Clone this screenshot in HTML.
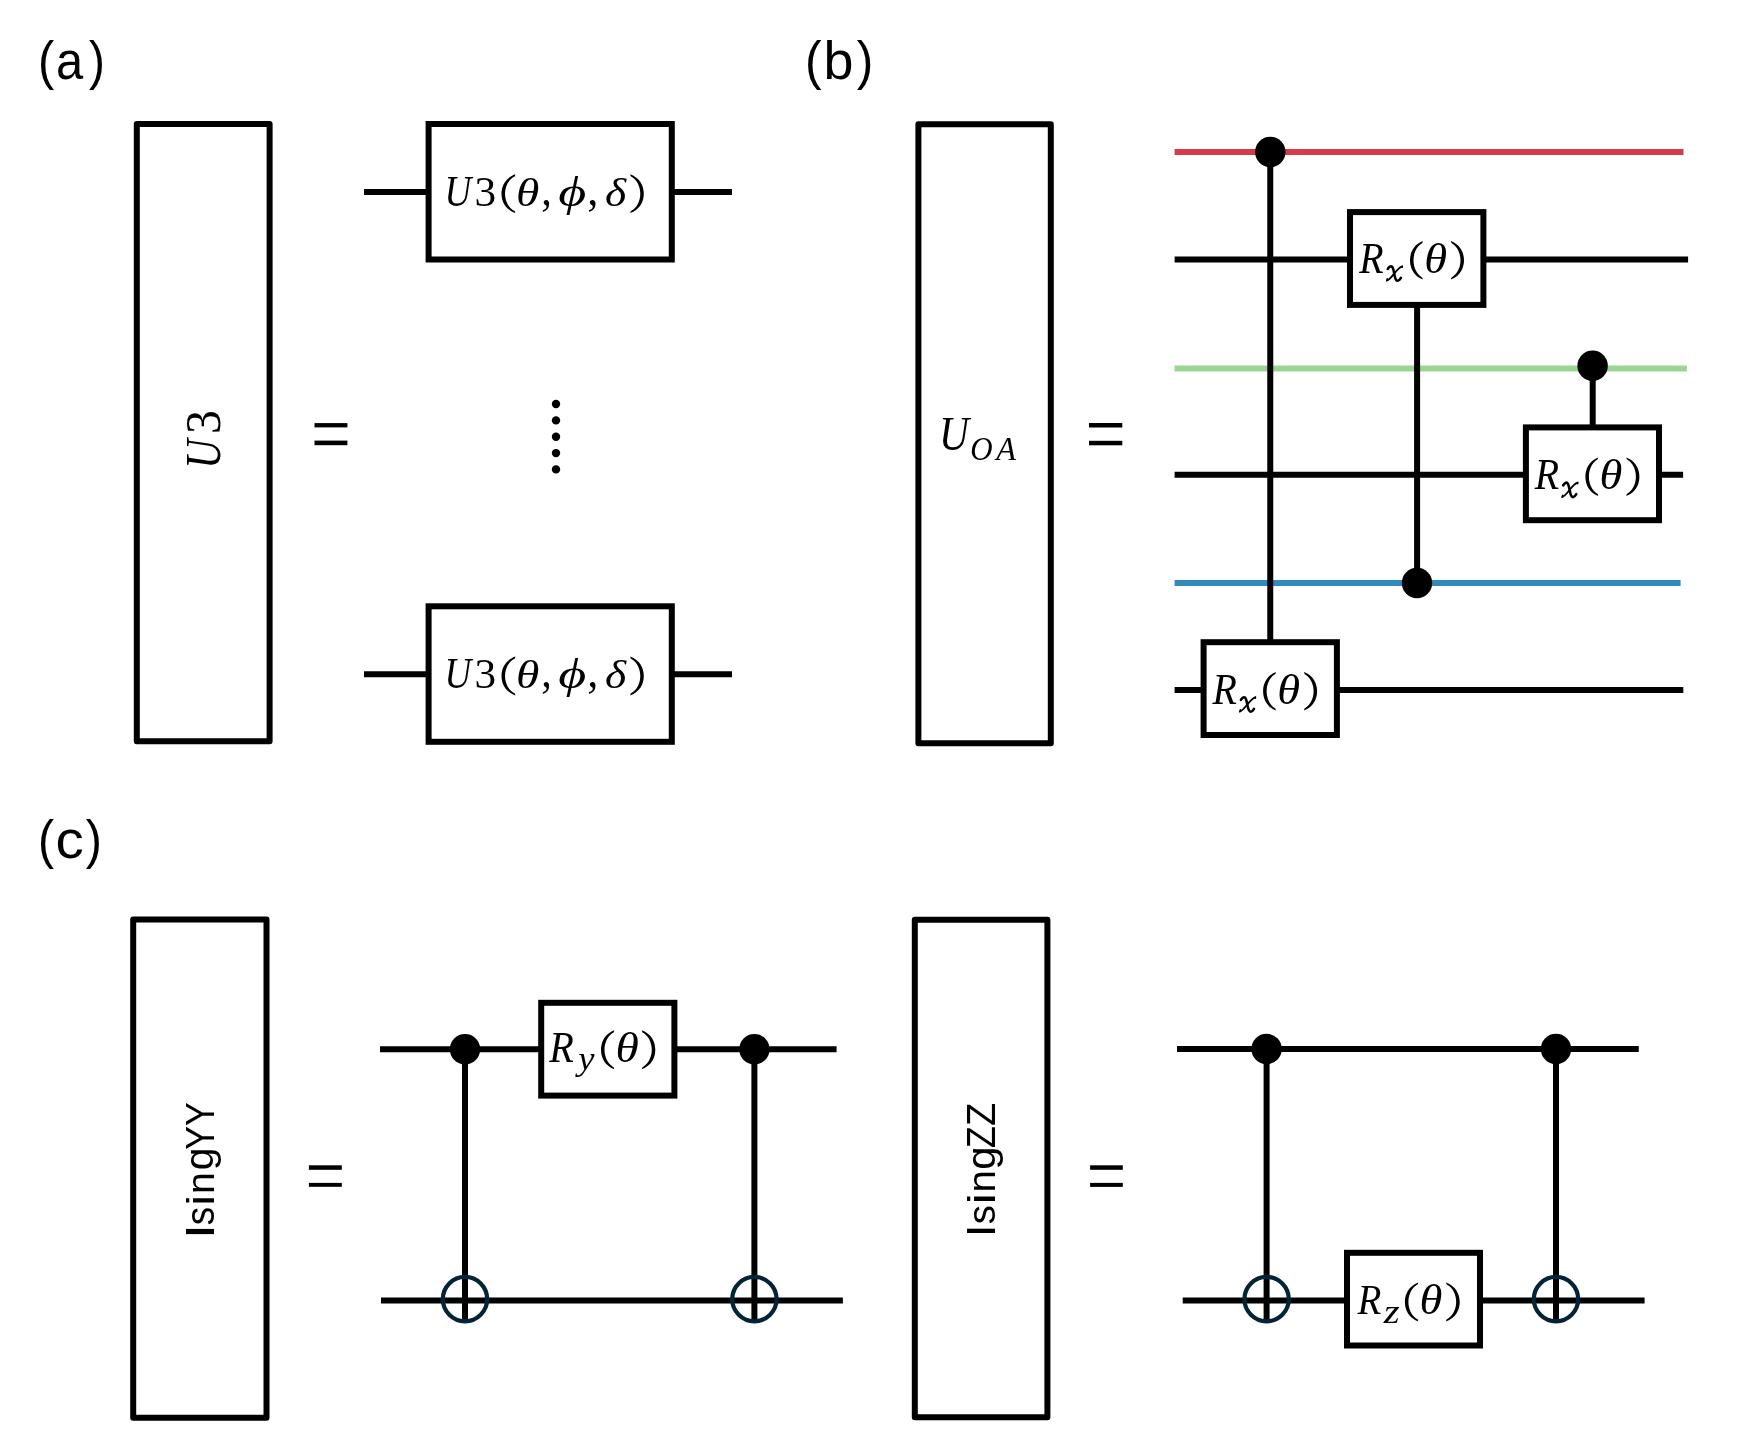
<!DOCTYPE html>
<html><head><meta charset="utf-8"><title>circuits</title>
<style>html,body{margin:0;padding:0;background:#fff;overflow:hidden;width:1743px;height:1436px;} svg{display:block;will-change:transform;} text{-webkit-font-smoothing:antialiased;}</style>
</head><body>
<svg width="1743" height="1436" viewBox="0 0 1743 1436">
<rect x="0" y="0" width="1743" height="1436" fill="#ffffff"/>
<text transform="translate(37.98,78.83) scale(0.9021,1)" font-family='"Liberation Sans", sans-serif' font-style="normal" font-size="53.94">(</text>
<text transform="translate(55.92,79.17) scale(0.9075,1)" font-family='"Liberation Sans", sans-serif' font-style="normal" font-size="53.85">a</text>
<text transform="translate(88.92,78.83) scale(0.8881,1)" font-family='"Liberation Sans", sans-serif' font-style="normal" font-size="53.94">)</text>
<text transform="translate(804.91,78.89) scale(0.9276,1)" font-family='"Liberation Sans", sans-serif' font-style="normal" font-size="53.67">(</text>
<text transform="translate(823.53,79.18) scale(1.0133,1)" font-family='"Liberation Sans", sans-serif' font-style="normal" font-size="53.11">b</text>
<text transform="translate(856.71,78.89) scale(0.9276,1)" font-family='"Liberation Sans", sans-serif' font-style="normal" font-size="53.67">)</text>
<text transform="translate(38.11,858.43) scale(0.8871,1)" font-family='"Liberation Sans", sans-serif' font-style="normal" font-size="54.42">(</text>
<text transform="translate(55.40,858.28) scale(1.0654,1)" font-family='"Liberation Sans", sans-serif' font-style="normal" font-size="53.12">c</text>
<text transform="translate(85.81,858.43) scale(0.8940,1)" font-family='"Liberation Sans", sans-serif' font-style="normal" font-size="54.42">)</text>
<rect x="136.8" y="124" width="132.80" height="617.20" fill="#fff" stroke="#000" stroke-width="6" stroke-linejoin="round"/>
<g transform="translate(219.6,465.1) rotate(-90)"><text transform="translate(-3.75,-0.08) scale(0.8237,1)" font-family='"Liberation Serif", serif' font-style="italic" font-size="49.66">U</text></g>
<g transform="translate(219.6,465.1) rotate(-90)"><text transform="translate(31.01,0.21) scale(0.9613,1)" font-family='"Liberation Serif", serif' font-style="normal" font-size="49.86">3</text></g>
<rect x="314.5" y="423.1" width="32.90" height="4.30" fill="#000"/>
<rect x="314.5" y="440.6" width="32.90" height="4.60" fill="#000"/>
<circle cx="556" cy="404.05" r="4.2" fill="#000"/>
<circle cx="556" cy="420.4" r="4.2" fill="#000"/>
<circle cx="556" cy="436.7" r="4.2" fill="#000"/>
<circle cx="556" cy="453.1" r="4.2" fill="#000"/>
<circle cx="556" cy="469.4" r="4.2" fill="#000"/>
<line x1="364" y1="192" x2="732" y2="192" stroke="#000" stroke-width="6" stroke-linecap="butt"/>
<rect x="428.6" y="124" width="243.20" height="135.50" fill="#fff" stroke="#000" stroke-width="6" stroke-linejoin="miter"/>
<text transform="translate(444.41,205.57) scale(0.8469,1)" font-family='"Liberation Serif", serif' font-style="italic" font-size="43.64">U</text>
<text transform="translate(474.53,205.58) scale(1.0039,1)" font-family='"Liberation Serif", serif' font-style="normal" font-size="43.16">3</text>
<path d="M515.40,174.30 C505.67,177.78 501.50,185.74 501.50,193.70 C501.50,201.66 505.67,209.62 515.40,213.10 L514.90,211.20 C508.12,207.63 505.00,200.47 505.00,193.70 C505.00,186.93 508.12,179.77 514.90,176.20 Z" fill="#000"/>
<text transform="translate(515.98,205.60) scale(1.1613,1)" font-family='"Liberation Serif", serif' font-style="italic" font-size="40.90">θ</text>
<text transform="translate(541.29,204.51) scale(0.9054,1)" font-family='"Liberation Serif", serif' font-style="normal" font-size="46.72">,</text>
<text transform="translate(558.36,206.00) scale(1.2947,1)" font-family='"Liberation Serif", serif' font-style="italic" font-size="41.80">ϕ</text>
<text transform="translate(587.21,204.51) scale(0.9485,1)" font-family='"Liberation Serif", serif' font-style="normal" font-size="46.72">,</text>
<text transform="translate(605.07,205.60) scale(1.1107,1)" font-family='"Liberation Serif", serif' font-style="italic" font-size="40.93">δ</text>
<path d="M630.20,174.30 C639.72,177.78 643.80,185.74 643.80,193.70 C643.80,201.66 639.72,209.62 630.20,213.10 L630.70,211.20 C637.27,207.63 640.30,200.47 640.30,193.70 C640.30,186.93 637.27,179.77 630.70,176.20 Z" fill="#000"/>
<line x1="364" y1="674.3" x2="732" y2="674.3" stroke="#000" stroke-width="6" stroke-linecap="butt"/>
<rect x="428.6" y="606.3" width="243.20" height="135.50" fill="#fff" stroke="#000" stroke-width="6" stroke-linejoin="miter"/>
<text transform="translate(444.41,687.87) scale(0.8469,1)" font-family='"Liberation Serif", serif' font-style="italic" font-size="43.64">U</text>
<text transform="translate(474.53,687.88) scale(1.0039,1)" font-family='"Liberation Serif", serif' font-style="normal" font-size="43.16">3</text>
<path d="M515.40,656.60 C505.67,660.08 501.50,668.04 501.50,676.00 C501.50,683.96 505.67,691.92 515.40,695.40 L514.90,693.50 C508.12,689.93 505.00,682.77 505.00,676.00 C505.00,669.23 508.12,662.07 514.90,658.50 Z" fill="#000"/>
<text transform="translate(515.98,687.90) scale(1.1613,1)" font-family='"Liberation Serif", serif' font-style="italic" font-size="40.90">θ</text>
<text transform="translate(541.29,686.81) scale(0.9054,1)" font-family='"Liberation Serif", serif' font-style="normal" font-size="46.72">,</text>
<text transform="translate(558.36,688.30) scale(1.2947,1)" font-family='"Liberation Serif", serif' font-style="italic" font-size="41.80">ϕ</text>
<text transform="translate(587.21,686.81) scale(0.9485,1)" font-family='"Liberation Serif", serif' font-style="normal" font-size="46.72">,</text>
<text transform="translate(605.07,687.90) scale(1.1107,1)" font-family='"Liberation Serif", serif' font-style="italic" font-size="40.93">δ</text>
<path d="M630.20,656.60 C639.72,660.08 643.80,668.04 643.80,676.00 C643.80,683.96 639.72,691.92 630.20,695.40 L630.70,693.50 C637.27,689.93 640.30,682.77 640.30,676.00 C640.30,669.23 637.27,662.07 630.70,658.50 Z" fill="#000"/>
<rect x="918.4" y="124.2" width="132.40" height="619.00" fill="#fff" stroke="#000" stroke-width="6" stroke-linejoin="round"/>
<text transform="translate(938.91,450.42) scale(0.8376,1)" font-family='"Liberation Serif", serif' font-style="italic" font-size="49.36">U</text>
<text transform="translate(970.34,460.17) scale(0.9134,1)" font-family='"Liberation Serif", serif' font-style="italic" font-size="33.93">O</text>
<text transform="translate(996.27,460.00) scale(0.9559,1)" font-family='"Liberation Serif", serif' font-style="italic" font-size="33.78">A</text>
<rect x="1089" y="423.0" width="33.30" height="4.50" fill="#000"/>
<rect x="1089" y="440.8" width="33.30" height="4.50" fill="#000"/>
<line x1="1174.6" y1="152" x2="1683.5" y2="152" stroke="#d43c4d" stroke-width="6" stroke-linecap="butt"/>
<line x1="1174.6" y1="259.5" x2="1688.1" y2="259.5" stroke="#000" stroke-width="6" stroke-linecap="butt"/>
<line x1="1174.6" y1="368.6" x2="1686.9" y2="368.6" stroke="#9bd593" stroke-width="6" stroke-linecap="butt"/>
<line x1="1174.6" y1="474.7" x2="1683.1" y2="474.7" stroke="#000" stroke-width="6" stroke-linecap="butt"/>
<line x1="1174.6" y1="583" x2="1680.6" y2="583" stroke="#3289be" stroke-width="6" stroke-linecap="butt"/>
<line x1="1174.6" y1="690" x2="1683.3" y2="690" stroke="#000" stroke-width="6" stroke-linecap="butt"/>
<line x1="1270.25" y1="152" x2="1270.25" y2="642.2" stroke="#000" stroke-width="6" stroke-linecap="butt"/>
<circle cx="1270.3" cy="152" r="15.2" fill="#000"/>
<rect x="1203.6" y="642.2" width="133.30" height="92.80" fill="#fff" stroke="#000" stroke-width="6" stroke-linejoin="miter"/>
<text transform="translate(1212.41,703.60) scale(0.9158,1)" font-family='"Liberation Serif", serif' font-style="italic" font-size="43.53">R</text>
<g transform="translate(1238.70,696.10) scale(1.0000,1.0000)"><path d="M2.2,3.8 C3.3,1.7 5.0,0.6 6.3,1.4 C7.7,2.5 8.3,6.6 9.0,10.2 C9.7,13.8 10.4,15.6 12.1,15.6 C13.4,15.6 14.5,14.1 15.3,12.7" fill="none" stroke="#000" stroke-width="2.6" stroke-linecap="round"/><path d="M16.6,1.2 C13.8,2.2 11.4,5.0 8.9,8.0 C6.4,11.0 4.2,14.4 1.3,15.3" fill="none" stroke="#000" stroke-width="1.8" stroke-linecap="round"/><path d="M17.4,0.2 C16.0,0.3 15.2,1.2 15.6,2.4 C16.1,3.3 17.3,2.9 17.4,2.0 Z" fill="#000"/><path d="M0.4,16.4 C0.5,14.6 0.9,13.1 1.4,12.9 C2.3,12.7 2.9,13.9 2.5,14.9 C2.1,15.9 1.2,16.4 0.4,16.4 Z" fill="#000"/></g>
<path d="M1275.90,672.00 C1266.94,675.45 1263.10,683.35 1263.10,691.25 C1263.10,699.15 1266.94,707.05 1275.90,710.50 L1275.40,708.60 C1269.39,705.08 1266.60,697.97 1266.60,691.25 C1266.60,684.53 1269.39,677.42 1275.40,673.90 Z" fill="#000"/>
<text transform="translate(1277.23,703.69) scale(1.1074,1)" font-family='"Liberation Serif", serif' font-style="italic" font-size="42.03">θ</text>
<path d="M1304.00,672.00 C1313.17,675.45 1317.10,683.35 1317.10,691.25 C1317.10,699.15 1313.17,707.05 1304.00,710.50 L1304.50,708.60 C1310.72,705.08 1313.60,697.97 1313.60,691.25 C1313.60,684.53 1310.72,677.42 1304.50,673.90 Z" fill="#000"/>
<line x1="1417.1" y1="583" x2="1417.1" y2="304.9" stroke="#000" stroke-width="6" stroke-linecap="butt"/>
<circle cx="1417" cy="583" r="15.2" fill="#000"/>
<rect x="1350" y="212.1" width="133.40" height="92.80" fill="#fff" stroke="#000" stroke-width="6" stroke-linejoin="miter"/>
<text transform="translate(1359.31,272.70) scale(0.9158,1)" font-family='"Liberation Serif", serif' font-style="italic" font-size="43.53">R</text>
<g transform="translate(1385.60,265.20) scale(1.0000,1.0000)"><path d="M2.2,3.8 C3.3,1.7 5.0,0.6 6.3,1.4 C7.7,2.5 8.3,6.6 9.0,10.2 C9.7,13.8 10.4,15.6 12.1,15.6 C13.4,15.6 14.5,14.1 15.3,12.7" fill="none" stroke="#000" stroke-width="2.6" stroke-linecap="round"/><path d="M16.6,1.2 C13.8,2.2 11.4,5.0 8.9,8.0 C6.4,11.0 4.2,14.4 1.3,15.3" fill="none" stroke="#000" stroke-width="1.8" stroke-linecap="round"/><path d="M17.4,0.2 C16.0,0.3 15.2,1.2 15.6,2.4 C16.1,3.3 17.3,2.9 17.4,2.0 Z" fill="#000"/><path d="M0.4,16.4 C0.5,14.6 0.9,13.1 1.4,12.9 C2.3,12.7 2.9,13.9 2.5,14.9 C2.1,15.9 1.2,16.4 0.4,16.4 Z" fill="#000"/></g>
<path d="M1422.80,241.10 C1413.84,244.55 1410.00,252.45 1410.00,260.35 C1410.00,268.25 1413.84,276.15 1422.80,279.60 L1422.30,277.70 C1416.29,274.17 1413.50,267.06 1413.50,260.35 C1413.50,253.63 1416.29,246.52 1422.30,243.00 Z" fill="#000"/>
<text transform="translate(1424.13,272.79) scale(1.1074,1)" font-family='"Liberation Serif", serif' font-style="italic" font-size="42.03">θ</text>
<path d="M1450.90,241.10 C1460.07,244.55 1464.00,252.45 1464.00,260.35 C1464.00,268.25 1460.07,276.15 1450.90,279.60 L1451.40,277.70 C1457.62,274.17 1460.50,267.06 1460.50,260.35 C1460.50,253.63 1457.62,246.52 1451.40,243.00 Z" fill="#000"/>
<line x1="1592.7" y1="365.8" x2="1592.7" y2="427.4" stroke="#000" stroke-width="6" stroke-linecap="butt"/>
<circle cx="1592.6" cy="365.8" r="15.2" fill="#000"/>
<rect x="1525.9" y="427.4" width="133.10" height="92.80" fill="#fff" stroke="#000" stroke-width="6" stroke-linejoin="miter"/>
<text transform="translate(1534.71,489.00) scale(0.9158,1)" font-family='"Liberation Serif", serif' font-style="italic" font-size="43.53">R</text>
<g transform="translate(1561.00,481.50) scale(1.0000,1.0000)"><path d="M2.2,3.8 C3.3,1.7 5.0,0.6 6.3,1.4 C7.7,2.5 8.3,6.6 9.0,10.2 C9.7,13.8 10.4,15.6 12.1,15.6 C13.4,15.6 14.5,14.1 15.3,12.7" fill="none" stroke="#000" stroke-width="2.6" stroke-linecap="round"/><path d="M16.6,1.2 C13.8,2.2 11.4,5.0 8.9,8.0 C6.4,11.0 4.2,14.4 1.3,15.3" fill="none" stroke="#000" stroke-width="1.8" stroke-linecap="round"/><path d="M17.4,0.2 C16.0,0.3 15.2,1.2 15.6,2.4 C16.1,3.3 17.3,2.9 17.4,2.0 Z" fill="#000"/><path d="M0.4,16.4 C0.5,14.6 0.9,13.1 1.4,12.9 C2.3,12.7 2.9,13.9 2.5,14.9 C2.1,15.9 1.2,16.4 0.4,16.4 Z" fill="#000"/></g>
<path d="M1598.20,457.40 C1589.24,460.85 1585.40,468.75 1585.40,476.65 C1585.40,484.55 1589.24,492.45 1598.20,495.90 L1597.70,494.00 C1591.69,490.47 1588.90,483.36 1588.90,476.65 C1588.90,469.94 1591.69,462.82 1597.70,459.30 Z" fill="#000"/>
<text transform="translate(1599.53,489.09) scale(1.1074,1)" font-family='"Liberation Serif", serif' font-style="italic" font-size="42.03">θ</text>
<path d="M1626.30,457.40 C1635.47,460.85 1639.40,468.75 1639.40,476.65 C1639.40,484.55 1635.47,492.45 1626.30,495.90 L1626.80,494.00 C1633.02,490.47 1635.90,483.36 1635.90,476.65 C1635.90,469.94 1633.02,462.82 1626.80,459.30 Z" fill="#000"/>
<rect x="133.2" y="919.5" width="133.30" height="498.30" fill="#fff" stroke="#000" stroke-width="6" stroke-linejoin="round"/>
<g transform="translate(214,1234) rotate(-90)"><text transform="translate(-5.15,0.00) scale(1.3651,1)" font-family='"Liberation Sans", sans-serif' font-style="normal" font-size="40.84">I</text></g>
<g transform="translate(214,1234) rotate(-90)"><text transform="translate(8.67,0.21) scale(0.9297,1)" font-family='"Liberation Sans", sans-serif' font-style="normal" font-size="39.72">s</text></g>
<g transform="translate(214,1234) rotate(-90)"><text transform="translate(28.33,0.00) scale(1.2616,1)" font-family='"Liberation Sans", sans-serif' font-style="normal" font-size="38.78">i</text></g>
<g transform="translate(214,1234) rotate(-90)"><text transform="translate(39.99,0.00) scale(1.0269,1)" font-family='"Liberation Sans", sans-serif' font-style="normal" font-size="38.28">n</text></g>
<g transform="translate(214,1234) rotate(-90)"><text transform="translate(63.68,-0.73) scale(0.9950,1)" font-family='"Liberation Sans", sans-serif' font-style="normal" font-size="41.12">g</text></g>
<g transform="translate(214,1234) rotate(-90)"><text transform="translate(84.32,0.00) scale(0.8685,1)" font-family='"Liberation Sans", sans-serif' font-style="normal" font-size="40.84">Y</text></g>
<g transform="translate(214,1234) rotate(-90)"><text transform="translate(108.11,0.00) scale(0.8763,1)" font-family='"Liberation Sans", sans-serif' font-style="normal" font-size="40.84">Y</text></g>
<rect x="308.9" y="1165.3" width="32.90" height="4.50" fill="#000"/>
<rect x="308.9" y="1182.9" width="32.90" height="3.90" fill="#000"/>
<line x1="380" y1="1049.2" x2="836.6" y2="1049.2" stroke="#000" stroke-width="6" stroke-linecap="butt"/>
<line x1="381" y1="1300.5" x2="842.9" y2="1300.5" stroke="#000" stroke-width="6" stroke-linecap="butt"/>
<line x1="465" y1="1049.2" x2="465" y2="1321.3" stroke="#000" stroke-width="6" stroke-linecap="butt"/>
<circle cx="465" cy="1049.2" r="15.2" fill="#000"/>
<circle cx="465" cy="1299.1" r="22.2" fill="none" stroke="#032436" stroke-width="4.2"/>
<line x1="754.4" y1="1049.2" x2="754.4" y2="1321.3" stroke="#000" stroke-width="6" stroke-linecap="butt"/>
<circle cx="754.4" cy="1049.2" r="15.2" fill="#000"/>
<circle cx="754.4" cy="1299.1" r="22.2" fill="none" stroke="#032436" stroke-width="4.2"/>
<rect x="541.2" y="1002.8" width="133.20" height="92.80" fill="#fff" stroke="#000" stroke-width="6" stroke-linejoin="miter"/>
<text transform="translate(549.22,1061.90) scale(0.9075,1)" font-family='"Liberation Serif", serif' font-style="italic" font-size="44.29">R</text>
<text transform="translate(578.35,1069.93) scale(1.1165,1)" font-family='"Liberation Serif", serif' font-style="italic" font-size="32.75">y</text>
<path d="M614.30,1030.30 C604.99,1033.80 601.00,1041.80 601.00,1049.80 C601.00,1057.80 604.99,1065.80 614.30,1069.30 L613.80,1067.40 C607.44,1063.80 604.50,1056.60 604.50,1049.80 C604.50,1043.00 607.44,1035.80 613.80,1032.20 Z" fill="#000"/>
<text transform="translate(615.38,1061.89) scale(1.1188,1)" font-family='"Liberation Serif", serif' font-style="italic" font-size="42.46">θ</text>
<path d="M641.80,1030.30 C651.25,1033.80 655.30,1041.80 655.30,1049.80 C655.30,1057.80 651.25,1065.80 641.80,1069.30 L642.30,1067.40 C648.80,1063.80 651.80,1056.60 651.80,1049.80 C651.80,1043.00 648.80,1035.80 642.30,1032.20 Z" fill="#000"/>
<rect x="914.8" y="919.8" width="132.60" height="497.50" fill="#fff" stroke="#000" stroke-width="6" stroke-linejoin="round"/>
<g transform="translate(995,1233) rotate(-90)"><text transform="translate(-4.15,0.10) scale(1.1249,1)" font-family='"Liberation Sans", sans-serif' font-style="normal" font-size="40.99">I</text></g>
<g transform="translate(995,1233) rotate(-90)"><text transform="translate(8.73,0.31) scale(0.9644,1)" font-family='"Liberation Sans", sans-serif' font-style="normal" font-size="39.72">s</text></g>
<g transform="translate(995,1233) rotate(-90)"><text transform="translate(28.75,0.10) scale(1.2864,1)" font-family='"Liberation Sans", sans-serif' font-style="normal" font-size="38.92">i</text></g>
<g transform="translate(995,1233) rotate(-90)"><text transform="translate(40.53,0.10) scale(1.0515,1)" font-family='"Liberation Sans", sans-serif' font-style="normal" font-size="38.28">n</text></g>
<g transform="translate(995,1233) rotate(-90)"><text transform="translate(63.24,-0.42) scale(1.0121,1)" font-family='"Liberation Sans", sans-serif' font-style="normal" font-size="41.52">g</text></g>
<g transform="translate(995,1233) rotate(-90)"><text transform="translate(84.75,0.10) scale(0.8817,1)" font-family='"Liberation Sans", sans-serif' font-style="normal" font-size="40.99">Z</text></g>
<g transform="translate(995,1233) rotate(-90)"><text transform="translate(106.99,0.10) scale(0.9307,1)" font-family='"Liberation Sans", sans-serif' font-style="normal" font-size="40.99">Z</text></g>
<rect x="1090.1" y="1165.3" width="32.70" height="4.50" fill="#000"/>
<rect x="1090.1" y="1182.9" width="32.70" height="4.00" fill="#000"/>
<line x1="1177" y1="1049" x2="1638.8" y2="1049" stroke="#000" stroke-width="6" stroke-linecap="butt"/>
<line x1="1182.7" y1="1300.5" x2="1644.6" y2="1300.5" stroke="#000" stroke-width="6" stroke-linecap="butt"/>
<line x1="1266.6" y1="1049" x2="1266.6" y2="1321.3" stroke="#000" stroke-width="6" stroke-linecap="butt"/>
<circle cx="1266.6" cy="1049" r="15.2" fill="#000"/>
<circle cx="1266.6" cy="1299.1" r="22.2" fill="none" stroke="#032436" stroke-width="4.2"/>
<line x1="1556" y1="1049" x2="1556" y2="1321.3" stroke="#000" stroke-width="6" stroke-linecap="butt"/>
<circle cx="1556" cy="1049" r="15.2" fill="#000"/>
<circle cx="1556" cy="1299.1" r="22.2" fill="none" stroke="#032436" stroke-width="4.2"/>
<rect x="1347" y="1252.8" width="133.00" height="92.70" fill="#fff" stroke="#000" stroke-width="6" stroke-linejoin="miter"/>
<text transform="translate(1357.51,1314.10) scale(0.9029,1)" font-family='"Liberation Serif", serif' font-style="italic" font-size="43.22">R</text>
<text transform="translate(1383.66,1322.90) scale(1.1854,1)" font-family='"Liberation Serif", serif' font-style="italic" font-size="34.42">z</text>
<path d="M1418.30,1282.40 C1408.92,1285.90 1404.90,1293.90 1404.90,1301.90 C1404.90,1309.90 1408.92,1317.90 1418.30,1321.40 L1417.80,1319.50 C1411.37,1315.90 1408.40,1308.70 1408.40,1301.90 C1408.40,1295.10 1411.37,1287.90 1417.80,1284.30 Z" fill="#000"/>
<text transform="translate(1419.43,1314.49) scale(1.1000,1)" font-family='"Liberation Serif", serif' font-style="italic" font-size="42.31">θ</text>
<path d="M1446.00,1282.40 C1455.59,1285.90 1459.70,1293.90 1459.70,1301.90 C1459.70,1309.90 1455.59,1317.90 1446.00,1321.40 L1446.50,1319.50 C1453.14,1315.90 1456.20,1308.70 1456.20,1301.90 C1456.20,1295.10 1453.14,1287.90 1446.50,1284.30 Z" fill="#000"/>
</svg>
</body></html>
